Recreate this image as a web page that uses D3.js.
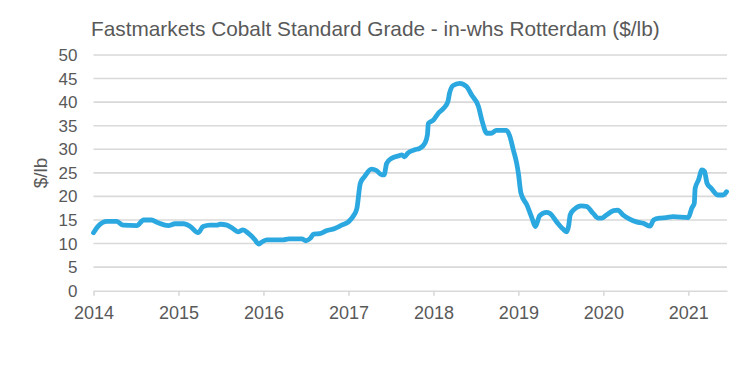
<!DOCTYPE html>
<html>
<head>
<meta charset="utf-8">
<script src="https://cdn.jsdelivr.net/npm/d3@7"></script>
<style>
  body { margin: 0; background: #fff; }
  #chart { width: 750px; height: 366px; }
  text { font-family: "Liberation Sans", Arial, sans-serif; fill: #595959; }
</style>
</head>
<body>
<div id="chart"></div>
<script>
// price series (decimal year, $/lb)
const years = [
  2014.00, 2014.05, 2014.16, 2014.27, 2014.35, 2014.51, 2014.59, 2014.68, 2014.76, 2014.88,
  2014.96, 2015.06, 2015.14, 2015.23, 2015.29, 2015.37, 2015.45, 2015.49, 2015.57, 2015.64,
  2015.70, 2015.76, 2015.82, 2015.90, 2015.94, 2015.98, 2016.04, 2016.23, 2016.30, 2016.45,
  2016.50, 2016.55, 2016.59, 2016.66, 2016.74, 2016.84, 2016.92, 2017.00, 2017.06, 2017.10,
  2017.14, 2017.19, 2017.27, 2017.33, 2017.39, 2017.42, 2017.45, 2017.51, 2017.59, 2017.63,
  2017.66, 2017.70, 2017.78, 2017.84, 2017.90, 2017.93, 2017.94, 2018.00, 2018.06, 2018.12,
  2018.17, 2018.19, 2018.23, 2018.31, 2018.39, 2018.45, 2018.53, 2018.57, 2018.63, 2018.68,
  2018.74, 2018.86, 2018.90, 2018.94, 2018.98, 2019.00, 2019.03, 2019.10, 2019.16, 2019.20,
  2019.25, 2019.33, 2019.37, 2019.45, 2019.53, 2019.57, 2019.59, 2019.61, 2019.66, 2019.74,
  2019.80, 2019.88, 2019.94, 2019.98, 2020.04, 2020.12, 2020.17, 2020.23, 2020.31, 2020.39,
  2020.47, 2020.55, 2020.59, 2020.66, 2020.74, 2020.82, 2021.00, 2021.04, 2021.07, 2021.08,
  2021.12, 2021.16, 2021.19, 2021.22, 2021.27, 2021.35, 2021.41, 2021.45
];
const prices = [
  12.3, 13.6, 14.7, 14.7, 13.9, 13.8, 15.0, 15.0, 14.4, 13.8,
  14.2, 14.2, 13.6, 12.3, 13.6, 13.9, 13.9, 14.1, 13.9, 13.2,
  12.5, 12.9, 12.2, 10.8, 9.9, 10.3, 10.8, 10.8, 11.0, 11.0,
  10.6, 11.1, 12.0, 12.1, 12.7, 13.2, 13.9, 14.6, 15.9, 17.5,
  22.8, 24.2, 25.8, 25.5, 24.6, 24.6, 27.0, 28.1, 28.6, 28.8,
  28.4, 29.2, 29.9, 30.2, 31.3, 33.1, 35.5, 36.2, 37.7, 38.7,
  40.1, 41.9, 43.5, 44.0, 43.3, 41.5, 39.1, 36.2, 33.4, 33.4,
  34.0, 34.0, 32.7, 29.9, 27.0, 24.9, 20.7, 18.2, 15.4, 13.6,
  15.9, 16.6, 16.4, 14.6, 13.0, 12.5, 13.6, 16.1, 17.3, 18.0,
  17.9, 16.4, 15.4, 15.4, 16.1, 17.0, 17.1, 16.1, 15.2, 14.6,
  14.3, 13.7, 15.0, 15.4, 15.5, 15.7, 15.5, 17.5, 18.5, 21.7,
  23.5, 25.6, 25.3, 22.8, 21.7, 20.3, 20.3, 21.0
];
const yearTicks = [2014, 2015, 2016, 2017, 2018, 2019, 2020, 2021];
const priceTicks = [0, 5, 10, 15, 20, 25, 30, 35, 40, 45, 50];
const title = "Fastmarkets Cobalt Standard Grade - in-whs Rotterdam ($/lb)";

const W = 750, H = 366;
const svg = d3.select("#chart").append("svg")
  .attr("width", W)
  .attr("height", H);

const x = d3.scaleLinear().domain([2014, 2021.455]).range([93.5, 727]);
const y = d3.scaleLinear().domain([0, 50]).range([290.7, 55]);

// gridlines
svg.append("g")
  .selectAll("line")
  .data(priceTicks.filter(d => d > 0))
  .join("line")
  .attr("x1", x.range()[0])
  .attr("x2", x.range()[1])
  .attr("y1", d => y(d))
  .attr("y2", d => y(d))
  .attr("stroke", "#d9d9d9")
  .attr("stroke-width", 1.6);

// y axis labels
const yAxis = svg.append("g")
  .attr("transform", `translate(${x.range()[0]},0)`)
  .call(d3.axisLeft(y).tickValues(priceTicks).tickSize(0).tickPadding(16));
yAxis.select(".domain").remove();
yAxis.selectAll("text")
  .attr("font-size", 17)
  .attr("font-family", null)
  .attr("fill", "#595959");

// x axis
const xAxis = svg.append("g")
  .attr("transform", `translate(0,${y(0)})`)
  .call(d3.axisBottom(x).tickValues(yearTicks).tickFormat(d3.format("d")).tickSize(5).tickSizeOuter(0).tickPadding(0));
xAxis.select(".domain").attr("stroke", "#d9d9d9").attr("stroke-width", 1.6);
xAxis.selectAll(".tick line").attr("stroke", "#d9d9d9").attr("stroke-width", 1.6);
xAxis.selectAll("text")
  .attr("dy", null)
  .attr("y", 28.5)
  .attr("font-size", 18)
  .attr("font-family", null)
  .attr("fill", "#595959");

// price line
const line = d3.line()
  .x((d, i) => x(years[i]))
  .y(d => y(d))
  .curve(d3.curveMonotoneX);

svg.append("path")
  .datum(prices)
  .attr("d", line)
  .attr("fill", "none")
  .attr("stroke", "#2ca8e0")
  .attr("stroke-width", 4.8)
  .attr("stroke-linejoin", "round")
  .attr("stroke-linecap", "round");

// title
svg.append("text")
  .attr("x", 91)
  .attr("y", 36)
  .attr("font-size", 20.8)
  .text(title);

// y axis title
svg.append("text")
  .attr("transform", `translate(47,173) rotate(-90)`)
  .attr("text-anchor", "middle")
  .attr("font-size", 19)
  .text("$/lb");
</script>
</body>
</html>
